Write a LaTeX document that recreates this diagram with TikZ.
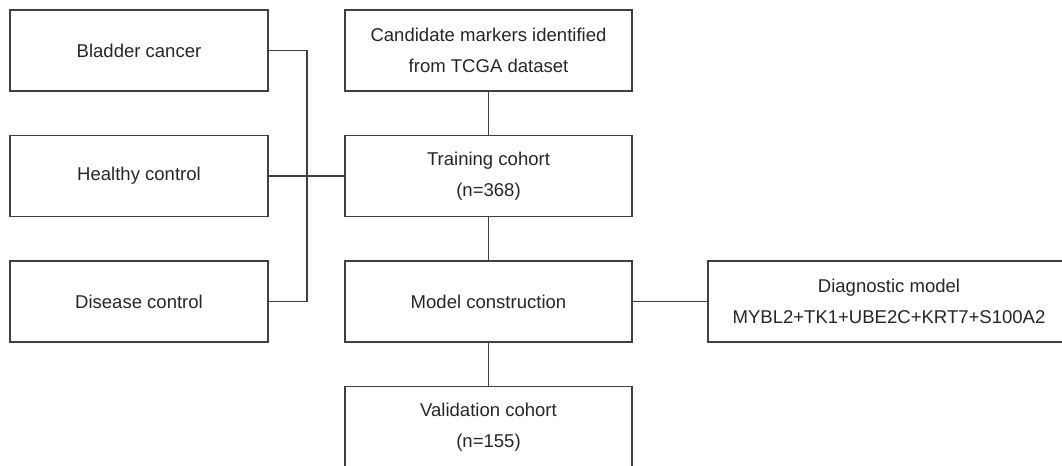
\documentclass[tikz,border=0pt]{standalone}
\usepackage{fontspec}
\setmainfont{Liberation Sans}
\begin{document}
\begin{tikzpicture}[x=0.75pt,y=-0.75pt,
  every node/.style={font=\fontsize{13.9pt}{23pt}\selectfont, text=black!85},
  boxbase/.style={draw=black!75, line width=1.1pt, fill=white, inner sep=0pt, outer sep=0pt, minimum height=60.75pt, align=center},
  leftbox/.style={boxbase, minimum width=193.5pt},
  midbox/.style={boxbase, minimum width=215.25pt},
  diagbox/.style={boxbase, minimum width=271.5pt},
  conn/.style={draw=black!75, line width=1.1pt}]
\clip (0,0) rectangle (1062,465);
\fill[white] (0,0) rectangle (1062,465);
\node[leftbox] (bladder) at (139,50.5) {Bladder cancer};
\node[leftbox] (healthy) at (139,176) {Healthy control};
\node[leftbox] (disease) at (139,301.5) {Disease control};
\node[midbox] (cand) at (488.5,50.5) {Candidate markers identified\\from TCGA dataset};
\node[midbox] (train) at (488.5,176) {Training cohort\\(n=368)};
\node[midbox] (model) at (488.5,301.5) {Model construction};
\node[midbox] (valid) at (488.5,427) {Validation cohort\\(n=155)};
\node[diagbox] (diag) at (889,301.5) {Diagnostic model\\MYBL2+TK1+UBE2C+KRT7+S100A2};
\coordinate (bustop) at (307,50.5);
\coordinate (busbot) at (307,301.5);
\draw[conn] (bladder.east) -- (bustop) -- (busbot) -- (disease.east);
\draw[conn] (healthy.east) -- (train.west);
\draw[conn] (cand.south) -- (train.north);
\draw[conn] (train.south) -- (model.north);
\draw[conn] (model.south) -- (valid.north);
\draw[conn] (model.east) -- (diag.west);
\end{tikzpicture}
\end{document}
